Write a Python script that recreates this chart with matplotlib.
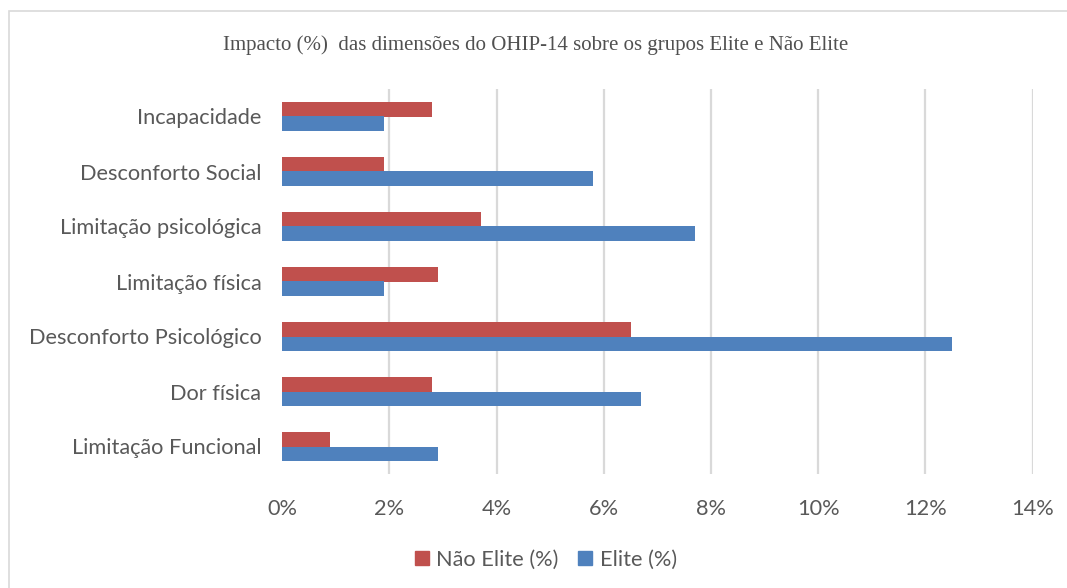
import matplotlib
matplotlib.use("Agg")
import matplotlib.pyplot as plt
import matplotlib.patches as mpatches
import numpy as np

# OHIP-14 dimensions, bottom to top as drawn
categories = [
    "Limitação Funcional",
    "Dor física",
    "Desconforto Psicológico",
    "Limitação física",
    "Limitação psicológica",
    "Desconforto Social",
    "Incapacidade",
]
nao_elite = [0.9, 2.8, 6.5, 2.9, 3.7, 1.9, 2.8]
elite = [2.9, 6.7, 12.5, 1.9, 7.7, 5.8, 1.9]
xticks = [0, 2, 4, 6, 8, 10, 12, 14]

title = "Impacto (%)  das dimensões do OHIP-14 sobre os grupos Elite e Não Elite"
red = "#C0504D"
blue = "#4F81BD"
grey_text = "#595959"
grid_col = "#D9D9D9"
fs = 15.7

W, H = 1067, 588
fig = plt.figure(figsize=(W / 100, H / 100), dpi=100)
fig.patch.set_facecolor("white")

# chart area border
fig.patches.append(mpatches.Rectangle((9 / W, -0.01), 1.1, 1 - 11 / H + 0.01,
                                      transform=fig.transFigure, fill=False,
                                      edgecolor=grid_col, linewidth=1.2))

left, right, top, bottom = 282.2, 1032.6, 89, 474
ax = fig.add_axes([left / W, 1 - bottom / H, (right - left) / W, (bottom - top) / H])

y = np.arange(len(categories))
h = 0.264
ax.barh(y + h / 2, nao_elite, height=h, color=red, label="Não Elite (%)", zorder=3)
ax.barh(y - h / 2, elite, height=h, color=blue, label="Elite (%)", zorder=3)

ax.set_xlim(0, 14)
ax.set_ylim(-0.5, len(categories) - 0.5)
ax.set_xticks(xticks)
ax.set_xticklabels([f"{v}%" for v in xticks])
ax.set_yticks(y)
ax.set_yticklabels(categories)

for v in xticks[1:]:
    ax.axvline(v, color=grid_col, linewidth=1.6, zorder=1)

for s in ax.spines.values():
    s.set_visible(False)
ax.tick_params(axis="both", length=0, colors=grey_text)
ax.tick_params(axis="x", pad=18, labelsize=fs)
ax.tick_params(axis="y", pad=15, labelsize=fs)
for lab in ax.get_xticklabels() + ax.get_yticklabels():
    lab.set_family(["Lato", "DejaVu Sans"])

fig.text(536 / W, 1 - 45 / H, title, ha="center", va="center",
         family=["Liberation Serif", "DejaVu Serif"], fontsize=15, color="#505050")

handles = [mpatches.Patch(color=red), mpatches.Patch(color=blue)]
fig.legend(handles, ["Não Elite (%)", "Elite (%)"], loc="center",
           bbox_to_anchor=(546 / W, 1 - 560 / H), ncol=2, frameon=False,
           prop={"family": "Lato", "size": fs}, labelcolor=grey_text,
           handlelength=0.62, handleheight=0.62, handletextpad=0.35, columnspacing=0.9)

fig.savefig("out.png", dpi=100, facecolor="white")
